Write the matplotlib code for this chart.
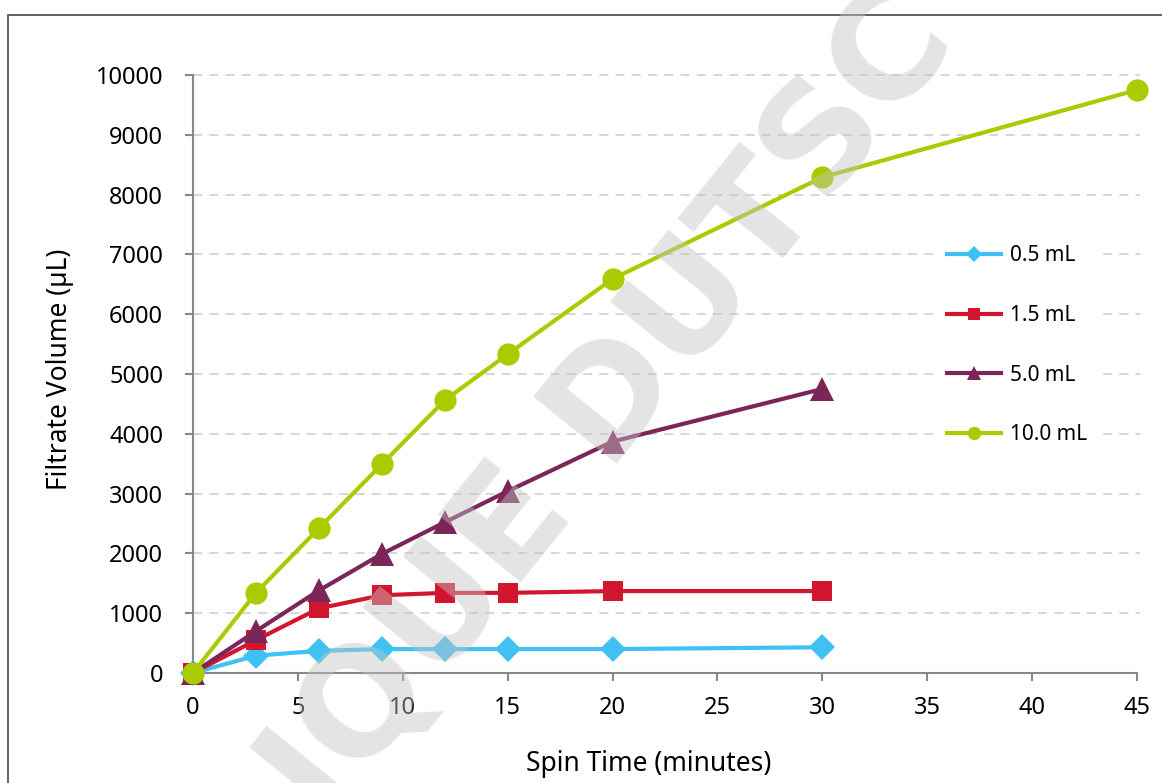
import matplotlib
matplotlib.use("Agg")
import matplotlib.pyplot as plt
from matplotlib.patches import Rectangle

# ---- data ----
time_05 = [0, 3, 6, 9, 12, 15, 20, 30]
vol_05 = [0, 290, 370, 400, 400, 400, 400, 430]
time_15 = [0, 3, 6, 9, 12, 15, 20, 30]
vol_15 = [0, 550, 1080, 1300, 1340, 1340, 1370, 1370]
time_50 = [0, 3, 6, 9, 12, 15, 20, 30]
vol_50 = [0, 700, 1380, 1990, 2520, 3040, 3870, 4750]
time_100 = [0, 3, 6, 9, 12, 15, 20, 30, 45]
vol_100 = [0, 1340, 2420, 3490, 4560, 5330, 6590, 8290, 9750]
labels = ["0.5 mL", "1.5 mL", "5.0 mL", "10.0 mL"]
x_ticks = [0, 5, 10, 15, 20, 25, 30, 35, 40, 45]
y_ticks = [0, 1000, 2000, 3000, 4000, 5000, 6000, 7000, 8000, 9000, 10000]

colors = ["#3FC1F4", "#D3162F", "#7B2559", "#AACB00"]
markers = ["D", "s", "^", "o"]
msizes = [13, 14, 17, 16]

plt.rcParams['font.family'] = ['Noto Sans', 'DejaVu Sans']

fig = plt.figure(figsize=(11.62, 7.83), dpi=100)
ax = fig.add_axes([193/1162, 1-673/783, (1137-193)/1162, (673-75)/783])

series = [(time_05, vol_05), (time_15, vol_15), (time_50, vol_50), (time_100, vol_100)]
for (t, v), c, m, ms, lab in zip(series, colors, markers, msizes, labels):
    ax.plot(t, v, color=c, marker=m, markersize=ms, lw=3, label=lab,
            markeredgewidth=0, clip_on=False, zorder=3)

ax.set_xlim(0, 45)
ax.set_ylim(0, 10000)
ax.set_xticks(x_ticks)
ax.set_yticks(y_ticks)
ax.tick_params(axis='both', labelsize=17, colors='#888888', labelcolor='black',
               length=5.5, width=1.5, direction='out')
ax.tick_params(axis='y', pad=16)
ax.tick_params(axis='x', pad=11)

for s in ['top', 'right']:
    ax.spines[s].set_visible(False)
for s in ['left', 'bottom']:
    ax.spines[s].set_color('#888888')
    ax.spines[s].set_linewidth(1.5)

for yv in y_ticks[1:]:
    ax.axhline(yv, xmin=0, xmax=1.003, color='#d3d3d3', lw=1.3,
               ls=(0, (5, 4)), zorder=1, clip_on=False)

ax.set_xlabel("Spin Time (minutes)", fontsize=19)
ax.xaxis.set_label_coords(0.483, -0.128)
ax.set_ylabel("Filtrate Volume (µL)", fontsize=19)
ax.yaxis.set_label_coords(-0.126, 0.508)

leg = ax.legend(loc='center left', bbox_to_anchor=(0.788, 0.548), fontsize=15,
                frameon=True, facecolor='white', edgecolor='none', framealpha=1,
                fancybox=False, handlelength=2.6, labelspacing=1.85,
                markerscale=0.6, numpoints=1, borderaxespad=0, borderpad=0.5,
                handletextpad=0.4)
leg.set_zorder(2)

# outer frame
fig.patches.append(Rectangle((8/1162, -0.02), 1.05, 1 - 15/783 + 0.02,
                             transform=fig.transFigure, fill=False,
                             edgecolor='#555555', lw=1.3))

# watermark
fig.text(0.525, 0.48, "IQUE DUTSC", rotation=51, ha='center', va='center',
         fontsize=106, fontweight='bold', color='#c4c4c4', alpha=0.45,
         family='DejaVu Sans', zorder=10)

fig.savefig("out.png", dpi=100)
